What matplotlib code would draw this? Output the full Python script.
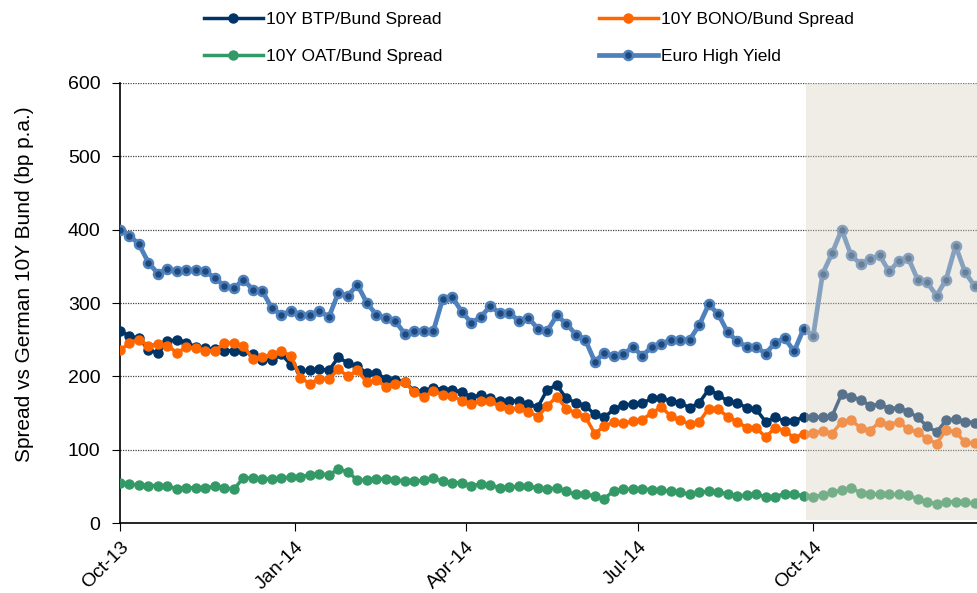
import numpy as np
import pandas as pd
import matplotlib
matplotlib.use('Agg')
import matplotlib.pyplot as plt
import matplotlib.dates as mdates
from matplotlib.patches import Rectangle

plt.rcParams['font.family'] = ['Liberation Sans', 'DejaVu Sans']

# sampled every 5 days from 1 Oct 2013
dates = pd.date_range('2013-10-01', periods=91, freq='5D')

hy = [400, 392, 380, 355, 340, 347, 343, 345, 345, 343, 334, 323, 320, 332, 318, 316, 293, 284, 289, 284, 284, 289, 281,
      314, 310, 325, 300, 284, 279, 275, 258, 262, 262, 262, 306, 308, 288, 273, 281, 296, 286, 286, 276, 280, 265, 262,
      283, 272, 257, 250, 220, 232, 228, 230, 240, 228, 240, 244, 250, 250, 250, 270, 298, 285, 260, 248, 240, 240, 231,
      246, 252, 234, 265, 255, 340, 368, 400, 365, 353, 360, 365, 343, 357, 362, 332, 328, 310, 332, 378, 342, 323]

btp = [262, 255, 252, 236, 232, 248, 250, 246, 240, 238, 237, 235, 235, 234, 230, 222, 222, 230, 216, 208, 208, 210, 208,
       226, 218, 214, 204, 205, 196, 195, 192, 180, 180, 184, 182, 182, 178, 172, 174, 170, 166, 167, 166, 162, 158, 182,
       188, 170, 164, 160, 148, 144, 155, 161, 162, 163, 170, 170, 167, 164, 157, 164, 182, 175, 166, 164, 157, 155, 138,
       144, 139, 139, 145, 145, 144, 146, 176, 172, 168, 160, 162, 156, 157, 152, 144, 132, 124, 140, 142, 138, 137]

bono = [236, 245, 250, 242, 244, 242, 232, 240, 238, 235, 235, 245, 246, 241, 224, 226, 230, 234, 228, 198, 190, 197, 196,
        210, 200, 208, 192, 195, 186, 190, 192, 178, 172, 180, 175, 173, 167, 162, 167, 166, 159, 155, 157, 152, 145, 160,
        172, 156, 150, 145, 122, 132, 138, 136, 139, 141, 150, 158, 146, 140, 135, 138, 156, 155, 145, 138, 130, 130, 117,
        130, 126, 116, 122, 123, 125, 122, 138, 140, 130, 126, 138, 134, 138, 128, 124, 115, 108, 127, 124, 110, 109]

oat = [55, 53, 52, 51, 51, 50, 47, 48, 48, 48, 50, 48, 46, 62, 61, 60, 60, 61, 63, 63, 66, 67, 66,
       73, 70, 58, 59, 60, 60, 59, 57, 57, 58, 61, 57, 55, 55, 51, 53, 52, 48, 49, 50, 50, 48, 46,
       48, 43, 39, 39, 37, 33, 44, 46, 46, 47, 45, 45, 43, 42, 39, 42, 43, 42, 40, 37, 38, 40, 35,
       36, 40, 39, 37, 36, 38, 42, 45, 48, 41, 40, 39, 39, 39, 38, 33, 29, 26, 29, 29, 28, 27]

tick_dates = pd.to_datetime(['2013-10-01', '2014-01-01', '2014-04-01', '2014-07-01', '2014-10-01'])
tick_labels = ['Oct-13', 'Jan-14', 'Apr-14', 'Jul-14', 'Oct-14']

fig = plt.figure(figsize=(9.78, 5.93), dpi=100)
ax = fig.add_axes([120/978, 70/593, 858/978, 440/593])

l_hy, = ax.plot(dates, hy, color='#4F81BD', lw=3.4, marker='o', ms=6.5,
                mfc='#1F497D', mec='#4F81BD', mew=1.8, label='Euro High Yield', zorder=3)
l_btp, = ax.plot(dates, btp, color='#003366', lw=2.5, marker='o', ms=6.5,
                 label='10Y BTP/Bund Spread', zorder=4)
l_bono, = ax.plot(dates, bono, color='#FF6600', lw=2.5, marker='o', ms=6.5,
                  label='10Y BONO/Bund Spread', zorder=5)
l_oat, = ax.plot(dates, oat, color='#339966', lw=2.5, marker='o', ms=6.5,
                 label='10Y OAT/Bund Spread', zorder=4)

x0 = pd.Timestamp('2013-10-01')
x1 = x0 + pd.Timedelta(days=451.8)
ax.set_xlim(x0, x1)
ax.set_ylim(0, 600)

# shaded forecast area drawn on top of the lines
s0 = mdates.date2num(pd.Timestamp('2014-09-27'))
ax.add_patch(Rectangle((s0, 4), mdates.date2num(x1) - s0 + 5, 596,
                       facecolor=(218/255, 210/255, 193/255), alpha=0.4,
                       edgecolor='none', zorder=6, clip_on=True))

ax.set_yticks(range(0, 601, 100))
ax.yaxis.grid(True, linestyle=(0, (1, 1)), color='#444444', lw=0.9)
ax.set_axisbelow(True)
ax.set_xticks(tick_dates)
ax.set_xticklabels(tick_labels, rotation=45, ha='right', va='top', rotation_mode='anchor')
ax.tick_params(axis='both', labelsize=14, direction='out', length=6, color='black')
ax.tick_params(axis='y', pad=8)
ax.tick_params(axis='x', pad=5)

for s in ['top', 'right']:
    ax.spines[s].set_visible(False)
for s in ['left', 'bottom']:
    ax.spines[s].set_linewidth(1.2)

ax.set_ylabel('Spread vs German 10Y Bund (bp p.a.)', fontsize=15)
ax.yaxis.set_label_coords(-0.100, 0.543)

fig.legend(handles=[l_btp, l_oat, l_bono, l_hy], ncol=2, loc='center',
           bbox_to_anchor=(0.541, 1 - 38/593), frameon=False, fontsize=12.5,
           handlelength=3.4, handletextpad=0.2, columnspacing=9.0, labelspacing=1.3)

fig.savefig('out.png', dpi=100)
